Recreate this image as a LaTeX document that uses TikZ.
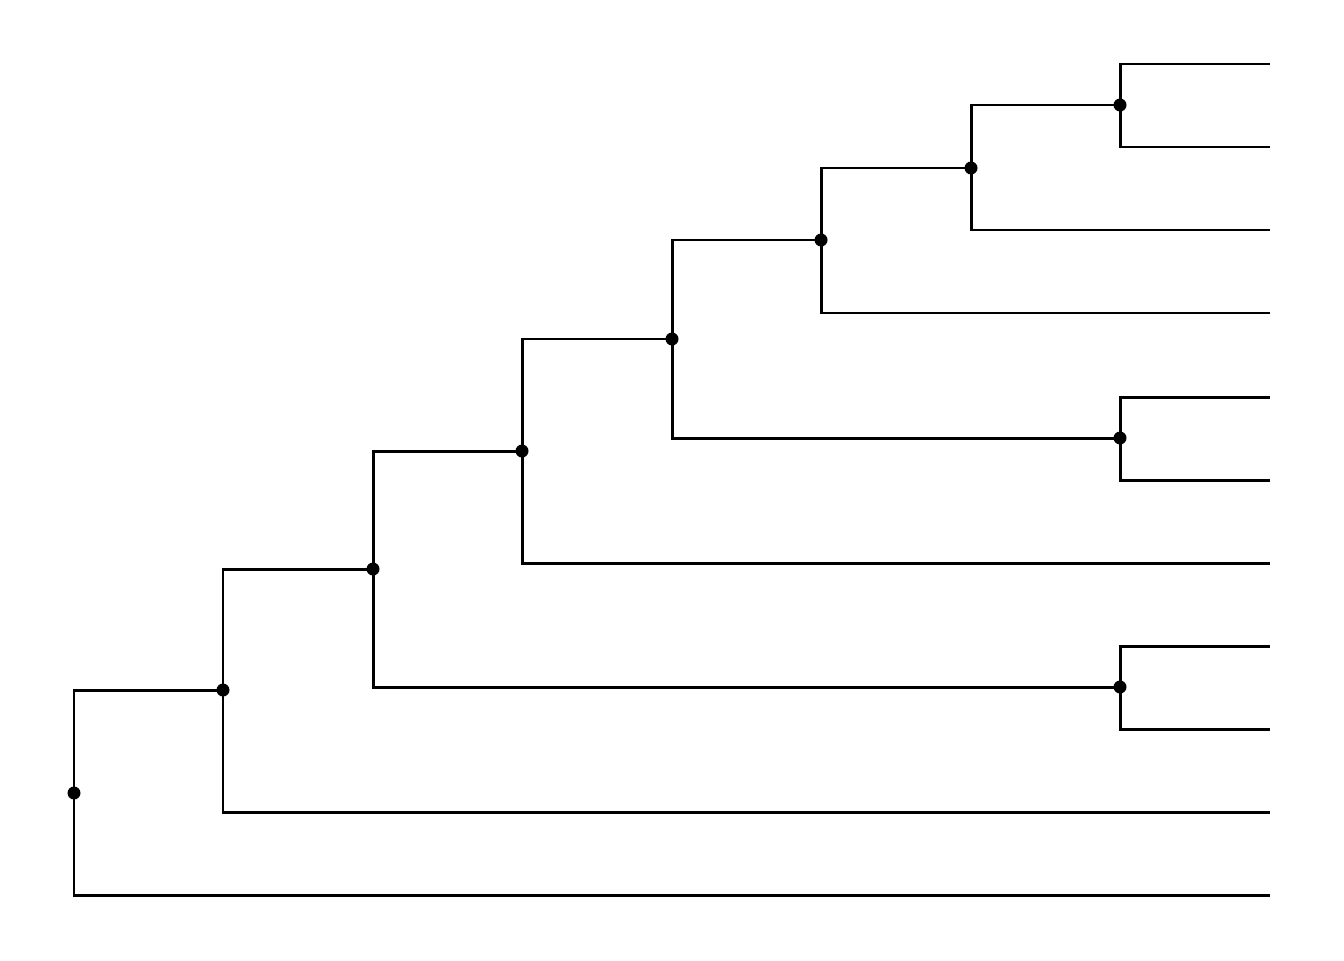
\documentclass[tikz,border=0pt]{standalone}
\usetikzlibrary{positioning}
\tikzset{
  junc/.style={circle, fill=black, inner sep=0pt, minimum size=2.6mm},
  branch/.style={draw, line width=1.7pt}
}

\begin{document}
\begin{tikzpicture}[x=0.02cm, y=-0.02cm]
\useasboundingbox (0,0) rectangle (1344,960);
% inner joints
\node[junc] (root) at (74,793) {};
\node[junc] (j1) at (223,690) {};
\node[junc] (j2) at (373,569) {};
\node[junc] (j3) at (522,451) {};
\node[junc] (j4) at (672,339) {};
\node[junc] (j5) at (821,240) {};
\node[junc] (j6) at (971,168) {};
\node[junc] (j7) at (1120,105) {};
\node[junc] (j8) at (1120,438) {};
\node[junc] (j9) at (1120,687) {};
% tips
\foreach \n/\y in {1/64,2/147,3/230,4/313,5/397,6/480,7/563,8/646,9/729,10/812,11/895}
  \coordinate (t\n) at (1270,\y);
% branches
\path[branch] (root.center) |- (j1.center) (root.center) |- (t11);
\path[branch] (j1.center) |- (j2.center) (j1.center) |- (t10);
\path[branch] (j2.center) |- (j3.center) (j2.center) |- (j9.center);
\path[branch] (j3.center) |- (j4.center) (j3.center) |- (t7);
\path[branch] (j4.center) |- (j5.center) (j4.center) |- (j8.center);
\path[branch] (j5.center) |- (j6.center) (j5.center) |- (t4);
\path[branch] (j6.center) |- (j7.center) (j6.center) |- (t3);
\path[branch] (j7.center) |- (t1) (j7.center) |- (t2);
\path[branch] (j8.center) |- (t5) (j8.center) |- (t6);
\path[branch] (j9.center) |- (t8) (j9.center) |- (t9);
\end{tikzpicture}
\end{document}
